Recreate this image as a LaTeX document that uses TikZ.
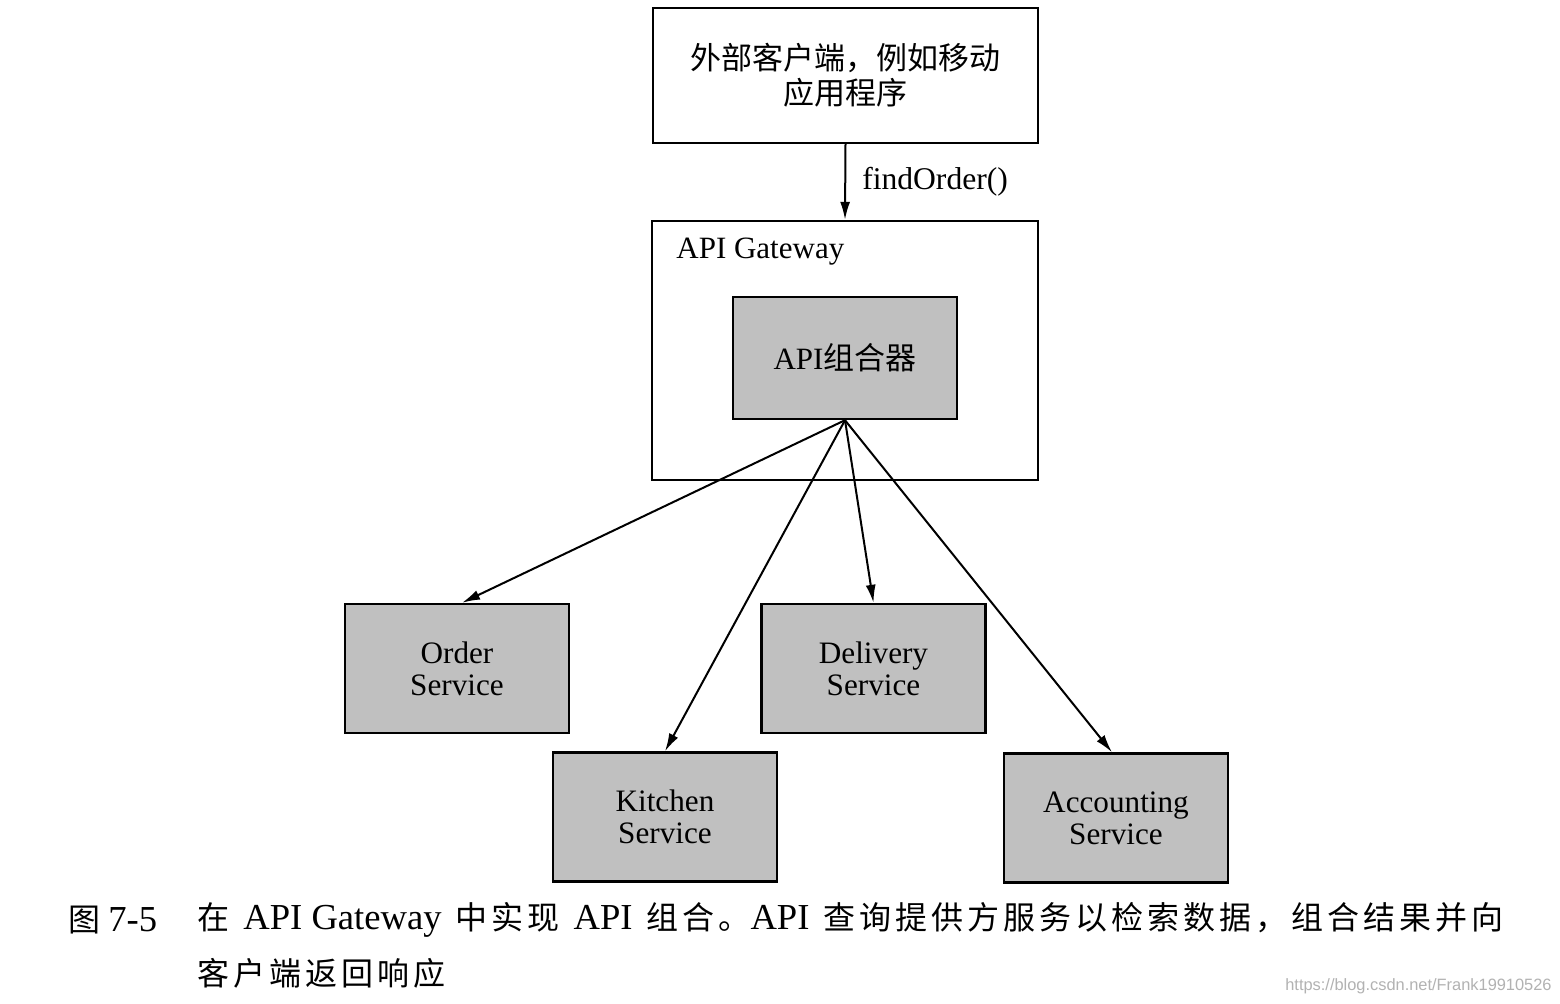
\documentclass[tikz,border=0pt]{standalone}
\usepackage{fontspec}
\setmainfont{Liberation Serif}
\newfontfamily\cjk{Noto Sans CJK SC}
\newfontfamily\cjkcap[LetterSpace=12.5]{Noto Sans CJK SC}
\newfontfamily\wmfont{Liberation Sans}
\usetikzlibrary{arrows.meta}
\definecolor{boxgray}{RGB}{192,192,192}
\newcommand{\cz}[1]{{\fontsize{16}{18}\selectfont\cjkcap #1}}
\newcommand{\gp}{\hspace{7pt}}
\begin{document}
\begin{tikzpicture}[x=0.5pt,y=-0.5pt,
  plainbox/.style={draw=black,line width=1.2pt,fill=white,inner sep=0pt,align=center},
  svcbox/.style={draw=black,line width=1.2pt,fill=boxgray,minimum width=112pt,inner sep=0pt,align=center,
    font=\fontsize{15.6}{16}\selectfont},
  link/.style={draw=black,line width=1pt,-{Latex[length=9pt,width=5pt]}},
  captext/.style={anchor=west,inner sep=0pt,font=\fontsize{18.3}{20}\selectfont}]
\useasboundingbox[fill=white] (0,0) rectangle (1560,1004);

% client
\node[plainbox,minimum width=192.5pt,minimum height=67.5pt,font=\fontsize{15.5}{17.5}\selectfont\cjk]
  (client) at (845.5,75.5) {外部客户端，例如移动\\应用程序};

% gateway container
\node[plainbox,minimum width=193pt,minimum height=129.5pt] (gw) at (845,350.5) {};
\node[anchor=west,inner sep=0pt,font=\fontsize{15.5}{17}\selectfont] (gwlabel) at (676,252) {API Gateway};

% composer
\node[svcbox,minimum height=61pt,font=\fontsize{15.5}{17}\selectfont] (comp) at (845,358) {API{\cjk 组合器}};

% services
\node[svcbox,minimum height=64.5pt] (order) at (457,668.5) {Order\\Service};
\node[svcbox,minimum height=64.5pt] (delivery) at (873.5,668.5) {Delivery\\Service};
\node[svcbox,minimum height=64.5pt] (kitchen) at (665,817) {Kitchen\\Service};
\node[svcbox,minimum height=64.5pt] (acct) at (1116,818) {Accounting\\Service};

% connectors
\draw[link] (client.south) -- node[right=8pt,font=\fontsize{15.8}{17}\selectfont,inner sep=0pt] (findlbl) {findOrder()} (gw.north);
\draw[link] (comp.south) -- ([xshift=2.5pt]order.north);
\draw[link] (comp.south) -- (kitchen.north);
\draw[link] (comp.south) -- (delivery.north);
\draw[link] (comp.south) -- ([xshift=-2pt]acct.north);

% caption
\node[captext] (capnum) at (68,920) {\cz{图}\hspace{4pt}7-5};
\node[captext] (cap1) at (197,920)
  {\cz{在}\gp API Gateway\gp\cz{中实现}\gp API\gp\cz{组合。}API\gp\cz{查询提供方服务以检索数据，组合结果并向}};
\node[captext] (cap2) at (197,973) {\cz{客户端返回响应}};

% watermark
\node[anchor=east,inner sep=0pt,text=black!30,font=\fontsize{8.2}{9}\selectfont\wmfont] (wm) at (1552,986) {https://blog.csdn.net/Frank19910526};
\end{tikzpicture}
\end{document}
